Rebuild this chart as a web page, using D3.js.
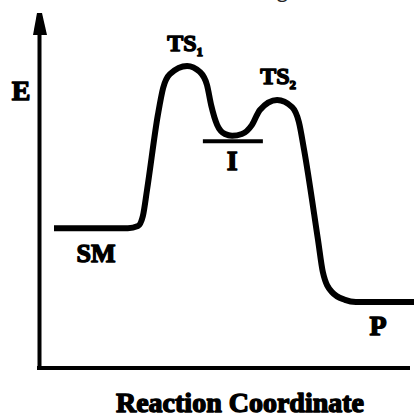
<!DOCTYPE html>
<html>
<head>
<meta charset="utf-8">
<script src="https://cdn.jsdelivr.net/npm/d3@7"></script>
<style>
  html, body { margin: 0; padding: 0; background: #fff; }
  svg { display: block; }
  .lbl { font-family: "Liberation Serif", "Times New Roman", serif; font-weight: bold; fill: #000; stroke: #000; stroke-width: 1.4px; stroke-linejoin: round; }
</style>
</head>
<body>
<div id="chart"></div>
<script>
// reaction coordinate (0-100) and energy (0-100)
var coord  = [4.0, 23.7, 26.4, 27.7, 28.8, 31.7, 33.1, 34.9, 39.5, 42.9, 44.8, 45.9, 47.5, 49.6, 51.5, 54.1, 56.8, 58.9, 63.5, 67.5, 69.3, 70.7, 74.4, 75.7, 78.1, 81.6, 84.5, 100];
var energy = [39.4, 39.4, 40.0, 42.8, 50.1, 71.3, 78.9, 82.8, 85.1, 83.4, 79.7, 74.1, 68.5, 65.9, 65.4, 65.9, 68.5, 72.7, 75.5, 73.5, 69.3, 61.4, 36.1, 27.0, 21.4, 19.2, 18.6, 18.6];

// intermediate level line
var levelCoord  = [43.7, 59.7];
var levelEnergy = 63.9;

var axisLabels = ["E", "Reaction Coordinate"];

var createChart = {
  init: function() {

    var width = 414, height = 415;
    var margin = {left: 39, right: 0, top: 13, bottom: 47};

    var svg = d3.select("#chart").append("svg")
      .attr("width", width)
      .attr("height", height);

    var x = d3.scaleLinear()
      .domain([0, 100])
      .range([margin.left, width - margin.right]);

    var y = d3.scaleLinear()
      .domain([0, 100])
      .range([height - margin.bottom, margin.top]);

    // cut-off caption text above the picture
    svg.append("text")
      .attr("x", 277)
      .attr("y", -3)
      .style("font-family", "Open Sans")
      .style("font-size", "20px")
      .style("fill", "#222")
      .text("g");

    // axes, no ticks
    var yAxis = svg.append("g")
      .attr("transform", "translate(" + x(0) + ",0)")
      .call(d3.axisLeft(y).ticks(0).tickSizeOuter(0));
    yAxis.select(".domain").attr("stroke", "#000").attr("stroke-width", 4);

    var xAxis = svg.append("g")
      .attr("transform", "translate(0," + y(0) + ")")
      .call(d3.axisBottom(x).ticks(0).tickSizeOuter(0));
    xAxis.select(".domain")
      .attr("stroke", "#000")
      .attr("stroke-width", 4)
      .attr("d", "M" + (x(0) - 2) + ",0H" + (width - 4));

    // arrow head on the energy axis
    var tipX = x(0) + 1, tipY = y(100);
    svg.append("path")
      .attr("d", "M" + (tipX - 3) + "," + tipY + "L" + (tipX + 2) + "," + tipY +
                 "L" + (tipX + 7) + "," + (tipY + 22) + "L" + (tipX - 7) + "," + (tipY + 22) + "Z")
      .attr("fill", "#000");

    // energy profile
    var pts = coord.map(function(c, i) { return [c, energy[i]]; });
    var line = d3.line()
      .x(function(d) { return x(d[0]); })
      .y(function(d) { return y(d[1]); })
      .curve(d3.curveMonotoneX);

    svg.append("path")
      .datum(pts)
      .attr("d", line)
      .attr("fill", "none")
      .attr("stroke", "#000")
      .attr("stroke-width", 6)
      .attr("stroke-linejoin", "round");

    svg.append("line")
      .attr("x1", x(levelCoord[0]))
      .attr("x2", x(levelCoord[1]))
      .attr("y1", y(levelEnergy))
      .attr("y2", y(levelEnergy))
      .attr("stroke", "#000")
      .attr("stroke-width", 4);

    // labels
    svg.append("text").attr("class", "lbl")
      .attr("x", 21).attr("y", 100)
      .attr("text-anchor", "middle")
      .style("font-size", "28px")
      .text(axisLabels[0]);

    svg.append("text").attr("class", "lbl")
      .attr("x", 240).attr("y", 412)
      .attr("text-anchor", "middle")
      .style("font-size", "28px")
      .text(axisLabels[1]);

    function ts(cx, by, sub) {
      var t = svg.append("text").attr("class", "lbl")
        .attr("x", cx).attr("y", by)
        .attr("text-anchor", "middle")
        .style("font-size", "24px");
      t.append("tspan").text("TS");
      t.append("tspan").attr("dy", 5).style("font-size", "13px").text(sub);
    }
    ts(x(39.5) - 2, y(85.1) - 15, "1");
    ts(x(63.5) + 1, y(75.5) - 16, "2");

    svg.append("text").attr("class", "lbl")
      .attr("x", x(51.5)).attr("y", 170)
      .attr("text-anchor", "middle")
      .style("font-size", "28px")
      .text("I");

    svg.append("text").attr("class", "lbl")
      .attr("x", 96).attr("y", 262)
      .attr("text-anchor", "middle")
      .style("font-size", "26px")
      .text("SM");

    svg.append("text").attr("class", "lbl")
      .attr("x", 378).attr("y", 335)
      .attr("text-anchor", "middle")
      .style("font-size", "28px")
      .text("P");
  }
};

createChart.init();
</script>
</body>
</html>
